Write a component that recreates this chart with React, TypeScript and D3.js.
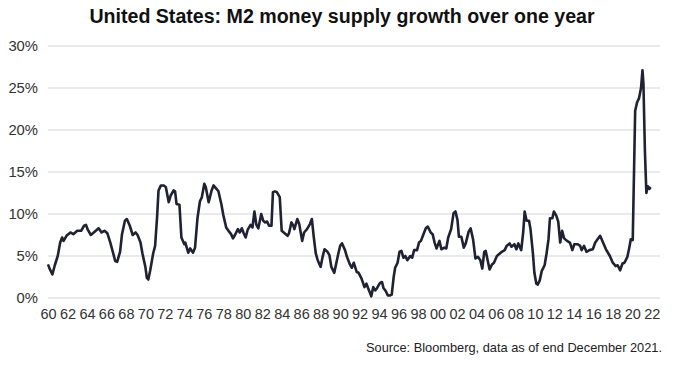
import { useEffect, useRef } from "react";
import * as d3 from "d3";

const WIDTH = 687;
const HEIGHT = 367;
const MARGINS = {
  LEFT: 48,
  RIGHT: 27,
  TOP: 46,
  BOTTOM: 69,
};
const FONT = "'Liberation Sans', Arial, sans-serif";

// decimal years
const years = [
  1960.0, 1960.2, 1960.45, 1960.7, 1961.0, 1961.25, 1961.45, 1961.6, 1961.9, 1962.3,
  1962.6, 1963.0, 1963.4, 1963.7, 1963.9, 1964.1, 1964.4, 1964.7, 1965.2, 1965.5,
  1965.8, 1966.1, 1966.4, 1966.7, 1966.9, 1967.1, 1967.4, 1967.6, 1967.9, 1968.1,
  1968.4, 1968.7, 1969.0, 1969.2, 1969.5, 1969.7, 1970.0, 1970.15, 1970.3, 1970.5,
  1970.8, 1971.0, 1971.2, 1971.35, 1971.6, 1971.9, 1972.1, 1972.4, 1972.6, 1972.9,
  1973.05, 1973.2, 1973.5, 1973.7, 1974.0, 1974.1, 1974.4, 1974.6, 1974.9, 1975.1,
  1975.35, 1975.6, 1975.8, 1976.05, 1976.2, 1976.5, 1976.8, 1977.0, 1977.3, 1977.5,
  1977.8, 1978.0, 1978.3, 1978.6, 1978.8, 1979.0, 1979.2, 1979.5, 1979.7, 1979.9,
  1980.1, 1980.3, 1980.5, 1980.8, 1981.0, 1981.2, 1981.4, 1981.6, 1981.9, 1982.1,
  1982.3, 1982.5, 1982.7, 1982.95, 1983.1, 1983.3, 1983.5, 1983.8, 1984.0, 1984.3,
  1984.6, 1984.75, 1985.0, 1985.2, 1985.3, 1985.6, 1985.8, 1986.1, 1986.3, 1986.6,
  1986.9, 1987.1, 1987.3, 1987.5, 1987.7, 1988.0, 1988.2, 1988.4, 1988.7, 1988.9,
  1989.1, 1989.4, 1989.6, 1989.8, 1990.0, 1990.2, 1990.5, 1990.7, 1991.0, 1991.2,
  1991.4, 1991.7, 1991.9, 1992.2, 1992.5, 1992.7, 1992.9, 1993.2, 1993.4, 1993.6,
  1993.8, 1994.1, 1994.3, 1994.45, 1994.7, 1994.9, 1995.1, 1995.3, 1995.5, 1995.65,
  1995.9, 1996.1, 1996.3, 1996.5, 1996.7, 1996.9, 1997.2, 1997.4, 1997.6, 1997.9,
  1998.1, 1998.3, 1998.5, 1998.8, 1999.0, 1999.3, 1999.5, 1999.7, 1999.9, 2000.2,
  2000.4, 2000.7, 2000.9, 2001.1, 2001.4, 2001.65, 2001.85, 2002.05, 2002.2, 2002.45,
  2002.7, 2002.9, 2003.2, 2003.4, 2003.65, 2003.9, 2004.15, 2004.4, 2004.6, 2004.8,
  2004.95, 2005.15, 2005.35, 2005.6, 2005.8, 2006.1, 2006.4, 2006.6, 2006.9, 2007.1,
  2007.4, 2007.6, 2007.9, 2008.1, 2008.3, 2008.6, 2008.8, 2008.95, 2009.15, 2009.4,
  2009.55, 2009.8, 2009.95, 2010.15, 2010.3, 2010.5, 2010.7, 2011.0, 2011.2, 2011.4,
  2011.55, 2011.8, 2011.95, 2012.2, 2012.4, 2012.6, 2012.8, 2013.0, 2013.3, 2013.6,
  2013.85, 2014.05, 2014.4, 2014.65, 2014.8, 2015.05, 2015.3, 2015.6, 2015.95, 2016.2,
  2016.7, 2017.0, 2017.3, 2017.7, 2018.0, 2018.3, 2018.5, 2018.75, 2019.0, 2019.2,
  2019.5, 2019.7, 2019.85, 2020.05, 2020.3, 2020.5, 2020.7, 2020.9, 2021.05, 2021.15,
  2021.3, 2021.45, 2021.6, 2021.75, 2021.9,
];

// M2 year-on-year growth, %
const growth = [
  4.0, 3.4, 2.8, 3.9, 5.0, 6.6, 7.2, 6.8, 7.4, 7.8,
  7.6, 8.0, 8.0, 8.6, 8.7, 8.1, 7.5, 7.8, 8.3, 7.8,
  8.0, 7.7, 6.6, 5.3, 4.4, 4.3, 5.5, 7.6, 9.2, 9.4,
  8.6, 7.5, 7.8, 7.5, 6.6, 5.3, 3.7, 2.4, 2.2, 3.3,
  5.3, 6.2, 9.6, 12.8, 13.4, 13.4, 13.2, 11.4, 12.2, 12.8,
  12.7, 11.2, 11.1, 7.2, 6.4, 6.6, 5.4, 5.9, 5.4, 6.0,
  9.5, 11.5, 12.0, 13.6, 13.2, 11.4, 12.8, 13.4, 13.0, 12.7,
  11.2, 9.9, 8.4, 7.9, 7.6, 7.1, 7.5, 8.2, 7.8, 8.3,
  7.7, 7.2, 8.1, 8.7, 8.4, 10.3, 8.7, 8.3, 10.0, 9.2,
  9.0, 9.1, 8.6, 8.6, 12.6, 12.7, 12.6, 12.0, 8.0, 7.7,
  7.4, 7.7, 9.0, 8.6, 8.2, 9.4, 8.8, 6.8, 7.8, 8.2,
  8.8, 9.4, 7.2, 5.3, 4.5, 3.7, 4.9, 5.8, 5.5, 5.1,
  3.7, 3.0, 4.1, 5.2, 6.2, 6.5, 5.7, 4.9, 4.0, 3.6,
  4.2, 3.1, 3.0, 2.3, 1.3, 1.7, 1.1, 0.2, 1.3, 0.9,
  1.2, 1.8, 1.9, 1.2, 0.8, 0.3, 0.3, 0.4, 2.5, 3.6,
  4.2, 5.5, 5.6, 4.8, 5.0, 4.5, 5.0, 4.8, 5.7, 5.7,
  6.6, 6.8, 7.4, 8.3, 8.5, 7.8, 7.6, 6.6, 5.9, 6.8,
  5.8, 6.0, 5.9, 7.2, 8.2, 10.1, 10.3, 9.3, 7.3, 7.3,
  6.0, 6.5, 7.9, 8.3, 7.0, 4.7, 4.9, 4.5, 3.5, 5.5,
  5.6, 4.5, 3.4, 4.0, 4.2, 5.0, 5.3, 5.5, 5.7, 6.2,
  6.5, 6.1, 6.4, 5.8, 6.5, 5.7, 7.8, 10.3, 9.2, 9.2,
  8.2, 5.3, 3.0, 1.7, 1.6, 2.1, 3.2, 3.9, 5.3, 7.0,
  9.5, 9.5, 10.3, 9.8, 9.1, 6.6, 8.0, 7.1, 6.8, 6.6,
  5.7, 6.4, 6.4, 6.2, 5.7, 6.2, 5.5, 5.7, 5.8, 6.6,
  7.4, 6.6, 5.8, 5.0, 4.2, 3.8, 3.9, 3.3, 4.1, 4.2,
  4.9, 6.0, 7.0, 6.9, 22.3, 23.3, 23.8, 25.0, 27.1, 25.5,
  17.5, 12.5, 13.3, 13.0, 13.2,
];

const xTicks = d3.range(1960, 2023, 2);
const yTicks = [0, 5, 10, 15, 20, 25, 30];

const TITLE = "United States: M2 money supply growth over one year";
const SOURCE = "Source: Bloomberg, data as of end December 2021.";

const M2Chart = () => {
  const gridRef = useRef<SVGGElement | null>(null);
  const lineRef = useRef<SVGGElement | null>(null);
  const xAxisRef = useRef<SVGGElement | null>(null);
  const yAxisRef = useRef<SVGGElement | null>(null);

  useEffect(() => {
    const plotW = WIDTH - MARGINS.LEFT - MARGINS.RIGHT;
    const plotH = HEIGHT - MARGINS.TOP - MARGINS.BOTTOM;

    const xScale = d3.scaleLinear().domain([1960, 2022.85]).range([0, plotW]);
    const yScale = d3.scaleLinear().domain([0, 30]).range([plotH, 0]);

    // gridlines
    const grid = d3.select(gridRef.current);
    grid.selectAll("*").remove();
    grid
      .selectAll("line")
      .data(yTicks)
      .join("line")
      .attr("x1", 0)
      .attr("x2", plotW)
      .attr("y1", (d) => yScale(d))
      .attr("y2", (d) => yScale(d))
      .attr("stroke", "#e3e3e3")
      .attr("stroke-width", 1.5);

    // y axis labels
    const yAxis = d3
      .axisLeft(yScale)
      .tickValues(yTicks)
      .tickSize(0)
      .tickPadding(10)
      .tickFormat((d) => `${d}%`);
    const yg = d3.select(yAxisRef.current);
    yg.call(yAxis as any);
    yg.select(".domain").remove();
    yg.selectAll("text")
      .attr("font-family", FONT)
      .attr("font-size", 14.8)
      .attr("fill", "#333");

    // x axis labels
    const xAxis = d3
      .axisBottom(xScale)
      .tickValues(xTicks)
      .tickSize(0)
      .tickPadding(11)
      .tickFormat((d) => String(d).slice(-2));
    const xg = d3.select(xAxisRef.current);
    xg.call(xAxis as any);
    xg.select(".domain").remove();
    xg.selectAll("text")
      .attr("font-family", FONT)
      .attr("font-size", 14.5)
      .attr("fill", "#333");

    // the series
    const points = years.map((y, i) => [y, growth[i]] as [number, number]);
    const lineGen = d3
      .line<[number, number]>()
      .x((d) => xScale(d[0]))
      .y((d) => yScale(d[1]));

    const lg = d3.select(lineRef.current);
    lg.selectAll("*").remove();
    lg.append("path")
      .datum(points)
      .attr("d", lineGen)
      .attr("fill", "none")
      .attr("stroke", "#1e2232")
      .attr("stroke-width", 2.6)
      .attr("stroke-linejoin", "round");
  }, []);

  return (
    <svg
      width={WIDTH}
      height={HEIGHT}
      style={{ position: "absolute", left: 0, top: 0, background: "#fff" }}
    >
      <text
        x={342}
        y={23}
        textAnchor="middle"
        fontFamily={FONT}
        fontWeight="bold"
        fontSize={19.6}
        fill="#111"
      >
        {TITLE}
      </text>
      <g ref={gridRef} transform={`translate(${MARGINS.LEFT}, ${MARGINS.TOP})`} />
      <g ref={lineRef} transform={`translate(${MARGINS.LEFT}, ${MARGINS.TOP})`} />
      <g ref={yAxisRef} transform={`translate(${MARGINS.LEFT}, ${MARGINS.TOP})`} />
      <g ref={xAxisRef} transform={`translate(${MARGINS.LEFT}, ${HEIGHT - MARGINS.BOTTOM})`} />
      <text
        x={662}
        y={352}
        textAnchor="end"
        fontFamily={FONT}
        fontSize={12.8}
        fill="#222"
      >
        {SOURCE}
      </text>
    </svg>
  );
};

export default function App() {
  return <M2Chart />;
}
